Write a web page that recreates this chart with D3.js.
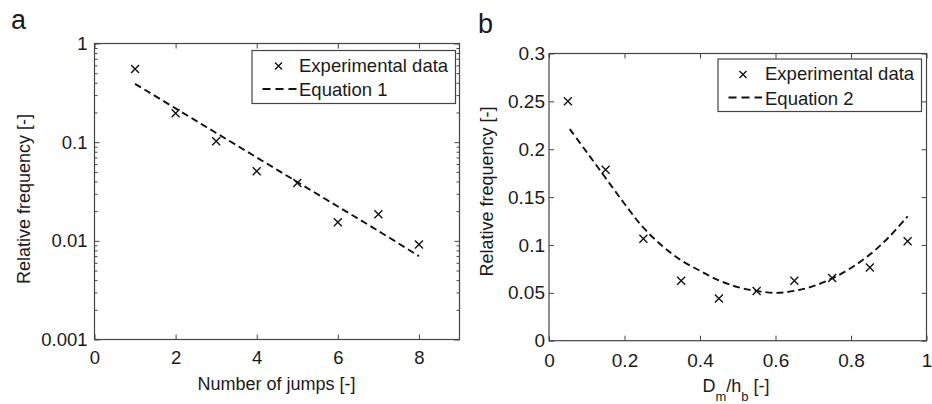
<!DOCTYPE html>
<html>
<head>
<meta charset="utf-8">
<script src="https://cdn.jsdelivr.net/npm/d3@7"></script>
<style>
  body { margin: 0; background: #fff; }
  text, tspan { font-family: "Liberation Sans", Arial, sans-serif; fill: #1a1a1a; }
</style>
</head>
<body>
<svg id="chart" width="932" height="404"></svg>
<script>
// panel a: jumps
var jumps = [1, 2, 3, 4, 5, 6, 7, 8];
var freqJumps = [0.55, 0.196, 0.102, 0.0507, 0.0386, 0.0154, 0.0186, 0.0092];
var eq1X = [1, 2, 3, 4, 5, 6, 7, 8];
var eq1Y = [0.39, 0.22, 0.124, 0.070, 0.0395, 0.0223, 0.0126, 0.0070];
var xTicksA = [0, 2, 4, 6, 8];
var yTicksA = [0.001, 0.01, 0.1, 1];

// panel b: Dm/hb
var ratio = [0.05, 0.15, 0.25, 0.35, 0.45, 0.55, 0.65, 0.75, 0.85, 0.95];
var freqRatio = [0.250, 0.1785, 0.1066, 0.0625, 0.0442, 0.0518, 0.0625, 0.0656, 0.0764, 0.1039];
var eq2X = [0.055, 0.1, 0.15, 0.2, 0.25, 0.3, 0.35, 0.4, 0.45, 0.5, 0.55, 0.6, 0.65, 0.7, 0.75, 0.8, 0.85, 0.9, 0.95];
var eq2Y = [0.221, 0.197, 0.170, 0.143, 0.118, 0.099, 0.084, 0.073, 0.063, 0.056, 0.052, 0.050, 0.052, 0.057, 0.065, 0.076, 0.090, 0.108, 0.130];
var xTicksB = [0, 0.2, 0.4, 0.6, 0.8, 1];
var yTicksB = [0, 0.05, 0.1, 0.15, 0.2, 0.25, 0.3];

var svg = d3.select("#chart");
var frameColor = "#444";
var inkColor = "#111";

function minorLog(lo, hi) {
    var out = [];
    for (var d = lo; d < hi; d *= 10)
        for (var k = 2; k <= 9; k++) out.push(d * k);
    return out;
}

function drawPanel(p) {
    var g = svg.append("g");

    // inward ticks on all four sides (matlab box style)
    var bottom = d3.axisBottom(p.x).tickValues(p.xTicks).tickSizeInner(-5).tickSizeOuter(0)
        .tickPadding(p.xPad).tickFormat(function(d) { return String(d); });
    var top = d3.axisTop(p.x).tickValues(p.xTicks).tickSizeInner(-5).tickSizeOuter(0).tickFormat("");
    var left = d3.axisLeft(p.y).tickValues(p.yTicks).tickSizeInner(-5).tickSizeOuter(0)
        .tickPadding(p.yPad).tickFormat(function(d) { return String(d); });
    var right = d3.axisRight(p.y).tickValues(p.yTicks).tickSizeInner(-5).tickSizeOuter(0).tickFormat("");

    var axes = [
        [bottom, "translate(0," + p.y.range()[0] + ")"],
        [top, "translate(0," + p.y.range()[1] + ")"],
        [left, "translate(" + p.x.range()[0] + ",0)"],
        [right, "translate(" + p.x.range()[1] + ",0)"]
    ];
    if (p.minor) {
        axes.push([d3.axisLeft(p.y).tickValues(p.minor).tickSizeInner(-3).tickSizeOuter(0).tickFormat(""),
            "translate(" + p.x.range()[0] + ",0)"]);
        axes.push([d3.axisRight(p.y).tickValues(p.minor).tickSizeInner(-3).tickSizeOuter(0).tickFormat(""),
            "translate(" + p.x.range()[1] + ",0)"]);
    }
    axes.forEach(function(a) {
        var ag = g.append("g").attr("transform", a[1]).call(a[0]);
        ag.select(".domain").remove();
        ag.selectAll("line").attr("stroke", frameColor);
        ag.selectAll("text").attr("font-size", p.tickFont).attr("fill", "#1a1a1a")
            .attr("font-family", "Liberation Sans, Arial, sans-serif");
    });

    g.append("rect")
        .attr("x", p.x.range()[0]).attr("y", p.y.range()[1])
        .attr("width", p.x.range()[1] - p.x.range()[0])
        .attr("height", p.y.range()[0] - p.y.range()[1])
        .attr("fill", "none").attr("stroke", frameColor).attr("stroke-width", 1.2);

    // fitted equation
    var line = d3.line()
        .x(function(d) { return p.x(d[0]); })
        .y(function(d) { return p.y(d[1]); })
        .curve(d3.curveCatmullRom);
    g.append("path")
        .datum(d3.zip(p.eqX, p.eqY))
        .attr("d", line)
        .attr("fill", "none").attr("stroke", inkColor)
        .attr("stroke-width", 1.9).attr("stroke-dasharray", "7,4");

    // experimental points
    var s = 4;
    var cross = function(sel) {
        sel.append("path")
            .attr("d", "M" + (-s) + "," + (-s) + "L" + s + "," + s + "M" + (-s) + "," + s + "L" + s + "," + (-s))
            .attr("stroke", inkColor).attr("stroke-width", 1.4).attr("fill", "none");
    };
    g.selectAll(".pt").data(d3.zip(p.ptX, p.ptY)).enter().append("g")
        .attr("class", "pt")
        .attr("transform", function(d) { return "translate(" + p.x(d[0]) + "," + p.y(d[1]) + ")"; })
        .call(cross);

    // legend
    var L = p.legend;
    g.append("rect").attr("x", L.x).attr("y", L.y).attr("width", L.w).attr("height", L.h)
        .attr("fill", "#fff").attr("stroke", frameColor).attr("stroke-width", 1.2);
    g.append("g").attr("transform", "translate(" + (L.x + L.mark) + "," + (L.y + 15.5) + ")")
        .call(function(sel) { s = 3.5; cross(sel); });
    g.append("line").attr("x1", L.x + L.dash0).attr("x2", L.x + L.dash1)
        .attr("y1", L.y + 38.5).attr("y2", L.y + 38.5)
        .attr("stroke", inkColor).attr("stroke-width", 1.8).attr("stroke-dasharray", "8,5");
    g.append("text").attr("x", L.x + L.text).attr("y", L.y + 21).attr("font-size", L.font)
        .text("Experimental data");
    g.append("text").attr("x", L.x + L.text).attr("y", L.y + 45.5).attr("font-size", L.font)
        .text(p.eqName);

    // axis titles
    g.append("text").attr("x", p.xTitle[0]).attr("y", p.xTitle[1]).attr("text-anchor", "middle")
        .attr("font-size", 18).call(p.xTitleText);
    g.append("text").attr("transform", "translate(" + p.yTitle[0] + "," + p.yTitle[1] + ") rotate(-90)")
        .attr("text-anchor", "middle").attr("font-size", 18).text("Relative frequency [-]");

    // panel letter
    svg.append("text").attr("x", p.letter[0]).attr("y", p.letter[1])
        .attr("font-size", 27).text(p.letterText);
}

drawPanel({
    x: d3.scaleLinear().domain([0, 9]).range([94.5, 459.5]),
    y: d3.scaleLog().domain([0.001, 1]).range([339.5, 43.5]),
    xTicks: xTicksA, yTicks: yTicksA, minor: minorLog(0.001, 1),
    xPad: 11, yPad: 7, tickFont: 18.5,
    eqX: eq1X, eqY: eq1Y, ptX: jumps, ptY: freqJumps,
    eqName: "Equation 1",
    legend: { x: 252, y: 50.5, w: 203.5, h: 53, mark: 26.5, text: 47, dash0: 10.5, dash1: 45, font: 18.5 },
    xTitle: [276.5, 389.5],
    xTitleText: function(t) { t.text("Number of jumps [-]"); },
    yTitle: [30, 199],
    letter: [11, 28.5], letterText: "a"
});

drawPanel({
    x: d3.scaleLinear().domain([0, 1]).range([549, 926.5]),
    y: d3.scaleLinear().domain([0, 0.3]).range([340.7, 53.5]),
    xTicks: xTicksB, yTicks: yTicksB, minor: null,
    xPad: 13, yPad: 4, tickFont: 19,
    eqX: eq2X, eqY: eq2Y, ptX: ratio, ptY: freqRatio,
    eqName: "Equation 2",
    legend: { x: 718, y: 59, w: 203.5, h: 52.5, mark: 25, text: 47, dash0: 10.5, dash1: 44, font: 18.5 },
    xTitle: [736, 392],
    xTitleText: function(t) {
        t.append("tspan").attr("fill", "#1a1a1a").text("D");
        t.append("tspan").attr("fill", "#1a1a1a").attr("font-size", 13).attr("dy", 9).text("m");
        t.append("tspan").attr("fill", "#1a1a1a").attr("dy", -9).text("/h");
        t.append("tspan").attr("fill", "#1a1a1a").attr("font-size", 13).attr("dy", 9).text("b");
        t.append("tspan").attr("fill", "#1a1a1a").attr("dy", -9).text(" [-]");
    },
    yTitle: [492.5, 191.5],
    letter: [478, 32.5], letterText: "b"
});
</script>
</body>
</html>
